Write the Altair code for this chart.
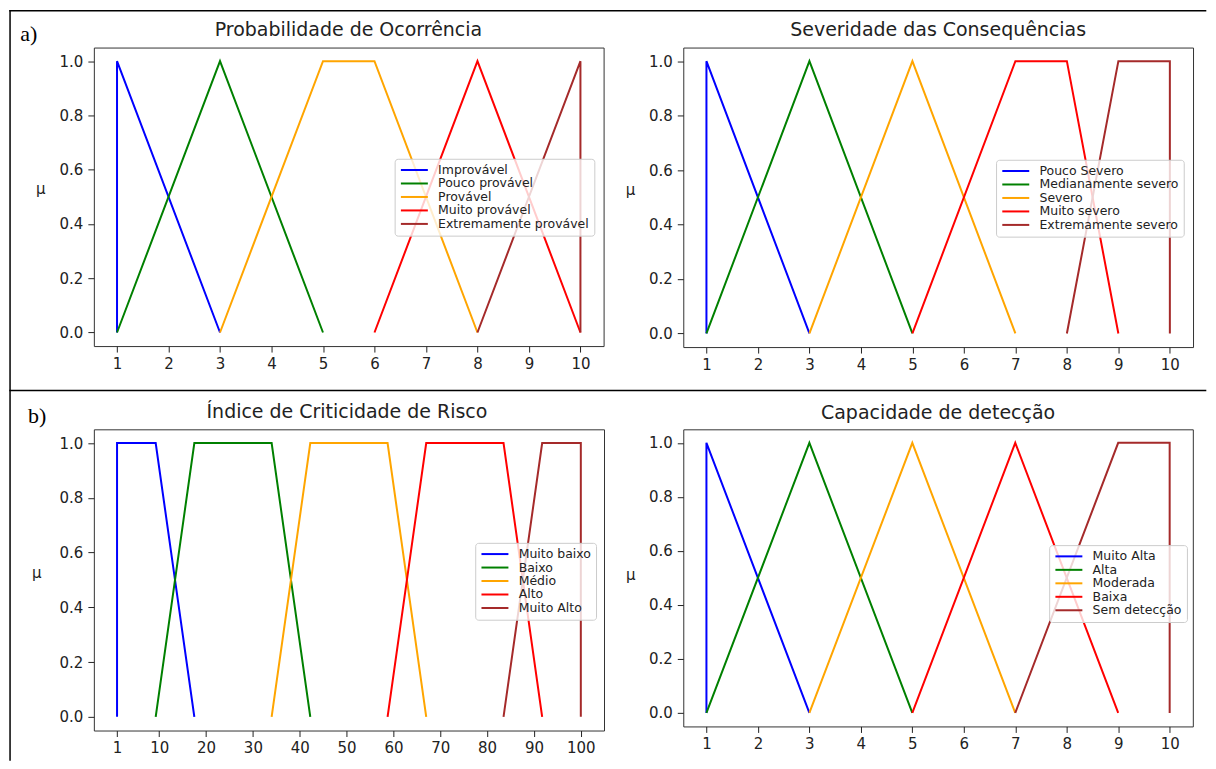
import altair as alt
import pandas as pd

# ---------------- data ----------------
titles = ["Probabilidade de Ocorrência", "Severidade das Consequências",
          "Índice de Criticidade de Risco", "Capacidade de detecção"]
colors = ["blue", "green", "orange", "red", "brown"]

p1_names = ["Improvável", "Pouco provável", "Provável", "Muito provável", "Extremamente provável"]
p1_x = [[1, 1, 3], [1, 3, 5], [3, 5, 6, 8], [6, 8, 10], [8, 10, 10]]
p1_y = [[0, 1, 0], [0, 1, 0], [0, 1, 1, 0], [0, 1, 0], [0, 1, 0]]

p2_names = ["Pouco Severo", "Medianamente severo", "Severo", "Muito severo", "Extremamente severo"]
p2_x = [[1, 1, 3], [1, 3, 5], [3, 5, 7], [5, 7, 8, 9], [8, 9, 10, 10]]
p2_y = [[0, 1, 0], [0, 1, 0], [0, 1, 0], [0, 1, 1, 0], [0, 1, 1, 0]]

p3_names = ["Muito baixo", "Baixo", "Médio", "Alto", "Muito Alto"]
p3_x = [[1, 1, 9.25, 17.5], [9.25, 17.5, 34, 42.25], [34, 42.25, 58.75, 67],
        [58.75, 67, 83.5, 91.75], [83.5, 91.75, 100, 100]]
p3_y = [[0, 1, 1, 0], [0, 1, 1, 0], [0, 1, 1, 0], [0, 1, 1, 0], [0, 1, 1, 0]]

p4_names = ["Muito Alta", "Alta", "Moderada", "Baixa", "Sem detecção"]
p4_x = [[1, 1, 3], [1, 3, 5], [3, 5, 7], [5, 7, 9], [7, 9, 10, 10]]
p4_y = [[0, 1, 0], [0, 1, 0], [0, 1, 0], [0, 1, 0], [0, 1, 1, 0]]

x_ticks_10 = list(range(1, 11))
x_ticks_100 = [1, 10, 20, 30, 40, 50, 60, 70, 80, 90, 100]
y_ticks = [0.0, 0.2, 0.4, 0.6, 0.8, 1.0]
labels_ab = ["a)", "b)"]

FONT = "DejaVu Sans"
TXT = "#222222"
one = pd.DataFrame({"k": [0]})


def panel(names, xs, ys, xdomain, xticks, leg, mu):
    rows = []
    for n, xv, yv in zip(names, xs, ys):
        for i, (a, b) in enumerate(zip(xv, yv)):
            rows.append({"serie": n, "x": a, "y": b, "ordem": i})
    df = pd.DataFrame(rows)
    return alt.Chart(df).mark_line(strokeWidth=2).encode(
        x=alt.X("x:Q", scale=alt.Scale(domain=xdomain, nice=False, zero=False),
                axis=alt.Axis(values=xticks, format="d", title=None, grid=False, domain=False,
                              tickSize=6, tickColor=TXT, tickWidth=1, labelFont=FONT,
                              labelFontSize=15, labelColor=TXT, labelPadding=4,
                              labelFlush=False, labelOverlap=False)),
        y=alt.Y("y:Q", scale=alt.Scale(domain=[-0.05, 1.05], nice=False, zero=False),
                axis=alt.Axis(values=y_ticks, format=".1f", title="μ", titleAngle=0,
                              titleX=mu[0], titleY=mu[1], titleAlign="center",
                              titleBaseline="middle", titleFont=FONT, titleFontSize=15,
                              titleFontWeight="normal", titleColor=TXT,
                              grid=False, domain=False, tickSize=6, tickColor=TXT,
                              tickWidth=1, labelFont=FONT, labelFontSize=15,
                              labelColor=TXT, labelPadding=5, labelOverlap=False)),
        color=alt.Color("serie:N", sort=names,
                        scale=alt.Scale(domain=names, range=colors),
                        legend=alt.Legend(title=None, orient="none", legendX=leg[0], legendY=leg[1],
                                          direction="vertical", symbolType="M-1,0H4.4",
                                          symbolSize=100, symbolStrokeWidth=2,
                                          symbolOffset=0,
                                          labelFont=FONT, labelFontSize=12.5, labelColor=TXT,
                                          labelOffset=26, labelLimit=400, rowPadding=0.5,
                                          padding=5, fillColor="rgba(255,255,255,0.8)",
                                          strokeColor="#cccccc", cornerRadius=3)),
        order=alt.Order("ordem:Q"),
    )


def title_mark(txt, x, y):
    return alt.Chart(one).mark_text(font=FONT, fontSize=19, align="center",
                                    baseline="middle", color=TXT).encode(
        x=alt.value(x), y=alt.value(y), text=alt.value(txt))


def hline(x1, x2, y):
    return alt.Chart(one).mark_rule(color="black", strokeWidth=1.5).encode(
        x=alt.value(x1), x2=alt.value(x2), y=alt.value(y))


def vline(x, y1, y2):
    return alt.Chart(one).mark_rule(color="black", strokeWidth=1.5).encode(
        x=alt.value(x), y=alt.value(y1), y2=alt.value(y2))


def tag(txt, x, y):
    return alt.Chart(one).mark_text(font="Liberation Serif", fontSize=22, align="left",
                                    baseline="middle", color="black").encode(
        x=alt.value(x), y=alt.value(y), text=alt.value(txt))


l1 = panel(p1_names, p1_x, p1_y, [0.55, 10.45], x_ticks_10, (301.3, 111.4), (-53.7, 141.4))
l2 = panel(p2_names, p2_x, p2_y, [0.55, 10.45], x_ticks_10, (313.3, 112.4), (-53.4, 142.4))
l3 = panel(p3_names, p3_x, p3_y, [-3.95, 104.95], x_ticks_100, (382, 113.7), (-57.7, 143))
l4 = panel(p4_names, p4_x, p4_y, [0.55, 10.45], x_ticks_10, (366.5, 116), (-53, 145))

c1 = alt.layer(
    l1,
    title_mark(titles[0], 255, -17.3),
    hline(-84.7, 1114.3, -36.85),
    vline(-83.95, -37.6, 714.4),
    hline(-84.7, 1114.3, 343.4),
    tag(labels_ab[0], -73.7, -14),
).properties(width=510.6, height=299)
c2 = alt.layer(l2, title_mark(titles[1], 255.3, -17.3)).properties(width=510.6, height=300)
c3 = alt.layer(l3, title_mark(titles[2], 253.5, -17), tag(labels_ab[1], -66, -13.3)).properties(
    width=511, height=301.7)
c4 = alt.layer(l4, title_mark(titles[3], 255.2, -16)).properties(width=510.4, height=297.6)

chart = alt.concat(
    c1, c2, c3, c4, columns=2, spacing={"row": 82.4, "column": 79.4},
    bounds="flush", align="none",
).resolve_scale(
    x="independent", y="independent", color="independent"
).resolve_legend(color="independent").properties(padding=0).configure_view(
    stroke="#333333", strokeWidth=1
)

chart.save("out.html", embed_options={"renderer": "svg", "actions": False})
